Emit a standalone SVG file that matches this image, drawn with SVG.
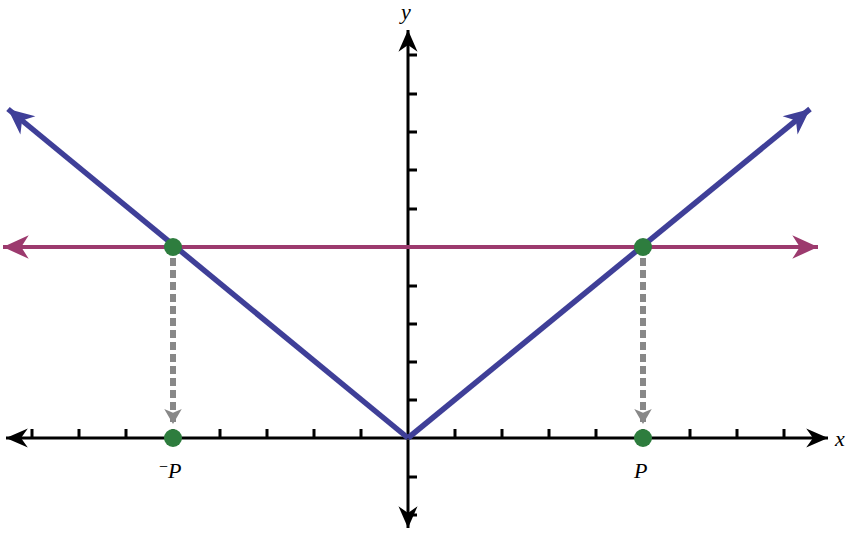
<svg xmlns="http://www.w3.org/2000/svg" width="850" height="539" viewBox="0 0 850 539">
<style>
.ax{stroke:#000;stroke-width:3;fill:none}
.tk{stroke:#000;stroke-width:3}
.lbl{font-family:"Liberation Serif",serif;font-style:italic;font-size:22px;fill:#000}
</style>
<defs>
<marker id="ak" markerUnits="userSpaceOnUse" markerWidth="30" markerHeight="30" refX="0" refY="0" viewBox="-20 -10 22 20" orient="auto"><path d="M0,0 L-16,-7 L-11,0 L-16,7 z" fill="#000"/></marker>
<marker id="ab" markerUnits="userSpaceOnUse" markerWidth="30" markerHeight="30" refX="0" refY="0" viewBox="-26 -12 28 24" orient="auto"><path d="M0,0 L-24,-11 L-17,0 L-24,11 z" fill="#3f3f98"/></marker>
<marker id="ap" markerUnits="userSpaceOnUse" markerWidth="30" markerHeight="30" refX="0" refY="0" viewBox="-26 -12 28 24" orient="auto"><path d="M0,0 L-24,-11 L-17,0 L-24,11 z" fill="#9c3a6e"/></marker>
<marker id="ag" markerUnits="userSpaceOnUse" markerWidth="20" markerHeight="20" refX="0" refY="0" viewBox="-14 -8 16 16" orient="auto"><path d="M0,0 L-12,-7 L-9,0 L-12,7 z" fill="#888"/></marker>
</defs>
<g id="axes">
<line class="ax" x1="410" y1="438" x2="6" y2="438" marker-end="url(#ak)"/>
<line class="ax" x1="406" y1="438" x2="828" y2="438" marker-end="url(#ak)"/>
<line class="ax" x1="408" y1="440" x2="408" y2="528" marker-end="url(#ak)"/>
<line class="ax" x1="408" y1="436" x2="408" y2="30" marker-end="url(#ak)"/>
<g class="tk">
<path d="M32,438V429M79,438V429M126,438V429M173,438V429M220,438V429M267,438V429M314,438V429M361,438V429M455,438V429M502,438V429M549,438V429M596,438V429M643,438V429M690,438V429M737,438V429M784,438V429"/>
<path d="M408,55H417M408,94H417M408,132H417M408,170H417M408,209H417M408,247H417M408,286H417M408,324H417M408,362H417M408,400H417M408,477H417M408,515H417"/>
</g>
<text class="lbl" x="835" y="446">x</text>
<text class="lbl" x="401" y="19">y</text>
<text class="lbl" x="159" y="478"><tspan font-size="16" dy="-6" font-style="normal">−</tspan><tspan dy="6">P</tspan></text>
<text class="lbl" x="634" y="478">P</text>
</g>
<g id="connectors">
<line x1="173" y1="258" x2="173" y2="424" stroke="#888" stroke-width="6" stroke-dasharray="8,4" marker-end="url(#ag)"/>
<line x1="643" y1="258" x2="643" y2="424" stroke="#888" stroke-width="6" stroke-dasharray="8,4" marker-end="url(#ag)"/>
<line x1="408" y1="247" x2="3" y2="247" stroke="#9c3a6e" stroke-width="4" marker-end="url(#ap)"/>
<line x1="408" y1="247" x2="818" y2="247" stroke="#9c3a6e" stroke-width="4" marker-end="url(#ap)"/>
<line x1="408" y1="438" x2="8" y2="109" stroke="#3f3f98" stroke-width="5.5" marker-end="url(#ab)"/>
<line x1="408" y1="438" x2="810" y2="109" stroke="#3f3f98" stroke-width="5.5" marker-end="url(#ab)"/>
</g>
<g id="points" fill="#2e7d3e">
<circle cx="173" cy="247" r="9"/>
<circle cx="643" cy="247" r="9"/>
<circle cx="173" cy="438" r="9"/>
<circle cx="643" cy="438" r="9"/>
</g>
</svg>
